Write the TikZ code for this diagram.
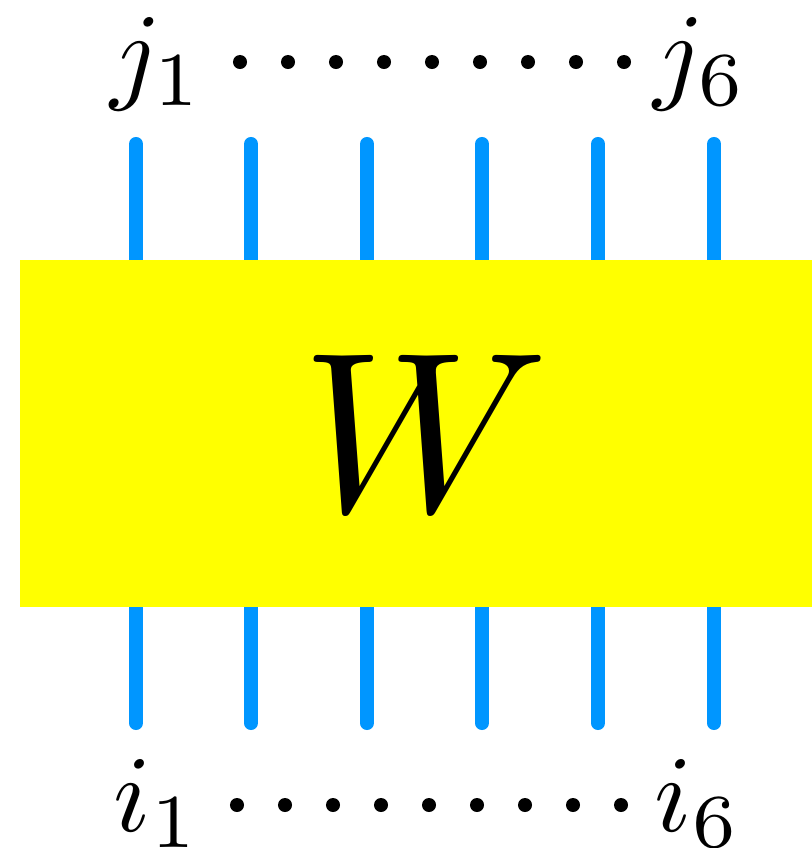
\documentclass[tikz,border=0pt]{standalone}
\usepackage{amsmath}
\usepackage{xcolor}
\usetikzlibrary{positioning}

\definecolor{legblue}{RGB}{0,150,255}
\definecolor{boxyellow}{RGB}{255,255,0}

\tikzset{
    leg/.style={line width=4pt, legblue, line cap=round},
    label/.style={scale=3.1, anchor=base},
}

\begin{document}
\begin{tikzpicture}[x=0.01cm,y=-0.01cm]
        \useasboundingbox (0,0) rectangle (811,848);
        % legs
        \foreach \k/\x in {1/136,2/251,3/367,4/482,5/598,6/714}{
            \coordinate (t\k) at (\x,144);
            \coordinate (b\k) at (\x,723);
            \draw[leg] (t\k) -- (\x,433);
            \draw[leg] (b\k) -- (\x,433);
        }
        \node[fill=boxyellow, minimum width=8.1cm, minimum height=3.47cm,
              inner sep=0pt] (W) at (425,433.5) {};
        \node[scale=6.5] (Wlabel) at (W.center) {\(W\)};
        % indices
        \node[label] (j1) at (157,89) {\(j_1\)};
        \node[label] (j6) at (700,89) {\(j_6\)};
        \node[label] (i1) at (157,831) {\(i_1\)};
        \node[label] (i6) at (698,831) {\(i_6\)};
        \foreach \n in {0,...,8}{
            \fill (240+48*\n,62) circle (0.07cm);
            \fill (237+48*\n,805) circle (0.07cm);
        }
    \end{tikzpicture}
\end{document}
